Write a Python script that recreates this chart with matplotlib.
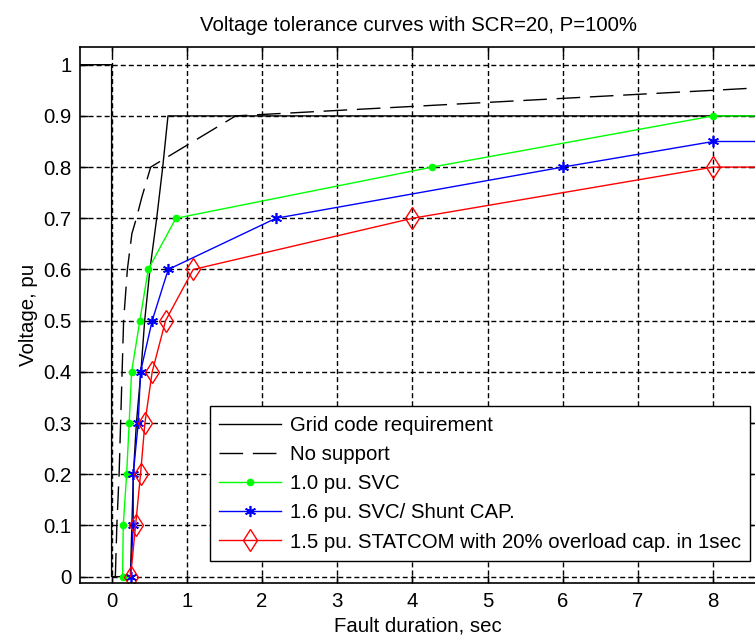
import numpy as np
import matplotlib
matplotlib.use("Agg")
import matplotlib.pyplot as plt

plt.rcParams['font.family'] = ['Liberation Sans', 'DejaVu Sans']
plt.rcParams['lines.scale_dashes'] = False

# 資料
grid_t = [-0.5, 0, 0, 0.25, 0.27, 0.29, 0.33, 0.39, 0.44, 0.51, 0.60, 0.68, 0.75, 9.0]
grid_v = [1.0, 1.0, 0.0, 0.0, 0.1, 0.2, 0.3, 0.4, 0.5, 0.6, 0.7, 0.8, 0.9, 0.9]

nosup_t = [0.05, 0.07, 0.10, 0.12, 0.14, 0.16, 0.21, 0.27, 0.33, 0.40, 0.52, 1.65, 8.0, 9.0]
nosup_v = [0.0, 0.1, 0.2, 0.3, 0.4, 0.5, 0.6, 0.67, 0.70, 0.74, 0.80, 0.90, 0.95, 0.958]

svc_t = [0.146, 0.155, 0.20, 0.234, 0.266, 0.376, 0.487, 0.855, 4.26, 8.0, 9.0]
svc_v = [0.0, 0.1, 0.2, 0.3, 0.4, 0.5, 0.6, 0.7, 0.8, 0.9, 0.9]

cap_t = [0.253, 0.288, 0.288, 0.354, 0.385, 0.54, 0.753, 2.185, 6.0, 8.0, 9.0]
cap_v = [0.0, 0.1, 0.2, 0.3, 0.4, 0.5, 0.6, 0.7, 0.8, 0.85, 0.85]

stat_t = [0.253, 0.319, 0.385, 0.443, 0.54, 0.718, 1.085, 4.0, 8.0, 9.0]
stat_v = [0.0, 0.1, 0.2, 0.3, 0.4, 0.5, 0.6, 0.7, 0.8, 0.8]

labels = ["Grid code requirement", "No support", "1.0 pu. SVC",
          "1.6 pu. SVC/ Shunt CAP.", "1.5 pu. STATCOM with 20% overload cap. in 1sec"]

xticks = list(range(0, 9))
yticks = [round(0.1 * i, 1) for i in range(11)]
ytick_labels = ["0"] + [f"{v:g}" for v in yticks[1:-1]] + ["1"]

FS = 14.7

# ======================================
# 圖
# ======================================
W, H = 755, 636
fig = plt.figure(figsize=(W / 100, H / 100), dpi=100)
ax = fig.add_axes([80 / W, (H - 583.3) / H, 676 / W, 536 / H])

ax.plot(grid_t, grid_v, color='black', lw=1.0, label=labels[0])
ax.plot(nosup_t, nosup_v, color='black', lw=1.0, dashes=(17, 7), label=labels[1])
ax.plot(svc_t, svc_v, color='#00ff00', lw=1.0, marker='.', ms=9, label=labels[2])
ax.plot(cap_t, cap_v, color='blue', lw=1.0, marker=(6, 2, 0), ms=8, mew=1.2, label=labels[3])
ax.plot(stat_t, stat_v, color='red', lw=1.0, marker='d', ms=11.5, mfc='none', mew=1.0,
        label=labels[4])

ax.set_xlim(-0.42, 8.57)
ax.set_ylim(-0.013, 1.034)
ax.set_xticks(xticks)
ax.set_yticks(yticks)
ax.set_yticklabels(ytick_labels)
ax.tick_params(direction='in', length=6, width=1, top=True, right=True,
               labelsize=FS, pad=6)
ax.grid(True, color='black', lw=1.0, linestyle=(0, (3.6, 2.2)))
for s in ax.spines.values():
    s.set_linewidth(1.2)

ax.set_title("Voltage tolerance curves with SCR=20, P=100%", fontsize=FS, pad=12)
ax.set_xlabel("Fault duration, sec", fontsize=FS, labelpad=4)
ax.set_ylabel("Voltage, pu", fontsize=FS, labelpad=4)

leg = ax.legend(loc='lower left', bbox_to_anchor=((210 - 80) / 676, (583.3 - 560.7) / 536),
                borderaxespad=0, fontsize=FS, fancybox=False, framealpha=1,
                edgecolor='black', handlelength=3.05, handletextpad=0.4,
                labelspacing=0.5, borderpad=0.45)
leg.get_frame().set_linewidth(1.0)

fig.savefig("out.png", dpi=100)
